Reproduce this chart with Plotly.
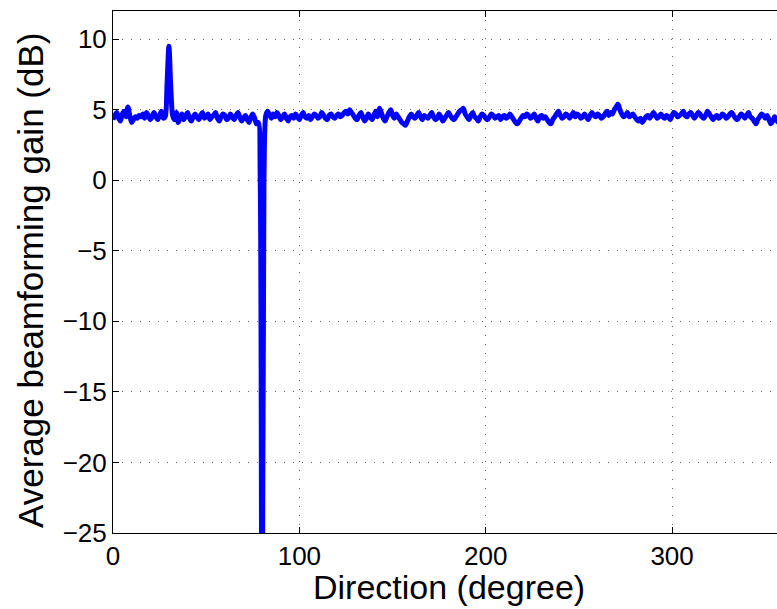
import plotly.graph_objects as go

# Direction in degrees (1-degree resolution)
directions = list(range(0, 361))

# Average beamforming gain (dB)
gain_db = [
    4.3, 4.6, 4.8, 4.4, 4.2, 4.7, 4.9, 4.5, 5.2, 4.6,
    4.1, 4.3, 4.5, 4.4, 4.6, 4.5, 4.7, 4.4, 4.8, 4.6,
    4.3, 4.5, 4.8, 4.5, 4.3, 4.6, 4.9, 4.4, 4.5, 6.8,
    9.5, 6.6, 4.6, 4.3, 4.8, 4.1, 4.4, 4.7, 4.3, 4.6,
    4.8, 4.4, 4.2, 4.5, 4.7, 4.5, 4.3, 4.6, 4.8, 4.4,
    4.5, 4.7, 4.3, 4.5, 4.6, 4.8, 4.4, 4.2, 4.5, 4.7,
    4.6, 4.3, 4.4, 4.7, 4.5, 4.3, 4.6, 4.8, 4.5, 4.2,
    4.4, 4.6, 4.3, 4.1, 4.5, 4.7, 4.4, 4.0, 4.1, 0.0,
    -45.0, 0.0, 4.6, 4.9, 4.6, 4.4, 4.7, 4.5, 4.8, 4.6,
    4.3, 4.5, 4.7, 4.4, 4.2, 4.5, 4.6, 4.4, 4.7, 4.5,
    4.3, 4.6, 4.8, 4.5, 4.4, 4.6, 4.3, 4.5, 4.7, 4.6,
    4.4, 4.5, 4.8, 4.6, 4.4, 4.3, 4.6, 4.7, 4.5, 4.4,
    4.6, 4.7, 4.5, 4.6, 4.8, 4.9, 4.7, 5.0, 4.8, 4.6,
    4.4, 4.3, 4.6, 4.8, 4.5, 4.2, 4.4, 4.7, 4.5, 4.3,
    4.6, 4.9, 4.5, 5.1, 4.8, 4.4, 4.2, 4.5, 4.8, 5.0,
    4.6, 4.4, 4.7, 4.5, 4.3, 4.1, 4.0, 3.9, 4.2, 4.5,
    4.7, 4.5, 4.4, 4.6, 4.8, 4.5, 4.3, 4.6, 4.5, 4.4,
    4.6, 4.8, 4.5, 4.3, 4.4, 4.7, 4.5, 4.2, 4.4, 4.6,
    4.8, 4.6, 4.4, 4.3, 4.5, 4.7, 4.9, 5.0, 5.1, 4.7,
    4.5, 4.3, 4.6, 4.8, 4.5, 4.4, 4.2, 4.5, 4.7, 4.6,
    4.4, 4.3, 4.5, 4.7, 4.6, 4.4, 4.5, 4.6, 4.3, 4.5,
    4.6, 4.4, 4.5, 4.7, 4.5, 4.3, 4.1, 4.0, 4.2, 4.4,
    4.6, 4.5, 4.7, 4.6, 4.4, 4.5, 4.7, 4.4, 4.2, 4.5,
    4.6, 4.4, 4.5, 4.3, 4.1, 4.0, 4.3, 4.5, 4.7, 4.9,
    4.6, 4.4, 4.5, 4.7, 4.6, 4.4, 4.6, 4.8, 4.5, 4.7,
    4.6, 4.4, 4.5, 4.7, 4.5, 4.3, 4.6, 4.8, 4.6, 4.5,
    4.7, 4.6, 4.4, 4.5, 4.7, 4.9, 4.6, 4.8, 4.7, 5.0,
    5.2, 5.4, 5.0, 4.7, 4.5, 4.6, 4.8, 4.5, 4.6, 4.7,
    4.5, 4.3, 4.2, 4.4, 4.1, 4.3, 4.5, 4.6, 4.4, 4.6,
    4.8, 4.6, 4.4, 4.5, 4.7, 4.5, 4.4, 4.6, 4.5, 4.3,
    4.6, 4.8, 4.7, 4.5, 4.6, 4.7, 4.9, 4.6, 4.5, 4.7,
    4.8, 4.6, 4.4, 4.6, 4.8, 4.7, 4.5, 4.4, 4.6, 4.9,
    4.7, 4.5, 4.3, 4.5, 4.6, 4.4, 4.5, 4.7, 4.6, 4.4,
    4.5, 4.7, 4.8, 4.6, 4.4, 4.3, 4.5, 4.7, 4.6, 4.4,
    4.6, 4.8, 4.5, 4.4, 4.2, 4.0, 4.3, 4.5, 4.7, 4.6,
    4.4, 4.6, 4.3, 4.0, 4.2, 4.5, 4.3, 4.1, 4.4, 4.6,
    4.3,
]

x_ticks = [0, 100, 200, 300]
y_ticks = [-25, -20, -15, -10, -5, 0, 5, 10]

x_title = "Direction (degree)"
y_title = "Average beamforming gain (dB)"

fig = go.Figure(
    go.Scatter(
        x=directions,
        y=gain_db,
        mode="lines",
        line=dict(color="#0000ff", width=5, shape="spline", smoothing=0.8),
        showlegend=False,
    )
)

font_family = "Liberation Sans, Arial, Helvetica, sans-serif"
grid_dash = "1px,8px"

fig.update_layout(
    width=777,
    height=609,
    margin=dict(l=113, r=0, t=11, b=76),
    paper_bgcolor="white",
    plot_bgcolor="white",
    font=dict(family=font_family, color="black", size=26),
)

common = dict(
    ticks="inside",
    ticklen=6,
    tickcolor="black",
    showline=True,
    linecolor="black",
    linewidth=1,
    showgrid=True,
    gridcolor="#666666",
    gridwidth=1,
    griddash=grid_dash,
    zeroline=False,
    automargin=False,
    tickfont=dict(size=26),
)

fig.update_xaxes(range=[0, 356.3], tickvals=x_ticks, mirror="ticks", **common)
fig.update_yaxes(range=[-25, 12], tickvals=y_ticks, mirror=False, **common)

fig.add_annotation(
    text=x_title, xref="paper", yref="paper", x=0.5, y=0,
    xanchor="center", yanchor="bottom", xshift=4, yshift=-75,
    showarrow=False, font=dict(size=34),
)
fig.add_annotation(
    text=y_title, xref="paper", yref="paper", x=0, y=0.5,
    xanchor="center", yanchor="middle", xshift=-83, yshift=-9,
    textangle=-90, showarrow=False, font=dict(size=35),
)

fig.write_html(
    "out.html",
    config={"displayModeBar": False},
    post_script="document.body.style.margin='0';document.body.style.overflow='hidden';",
)
